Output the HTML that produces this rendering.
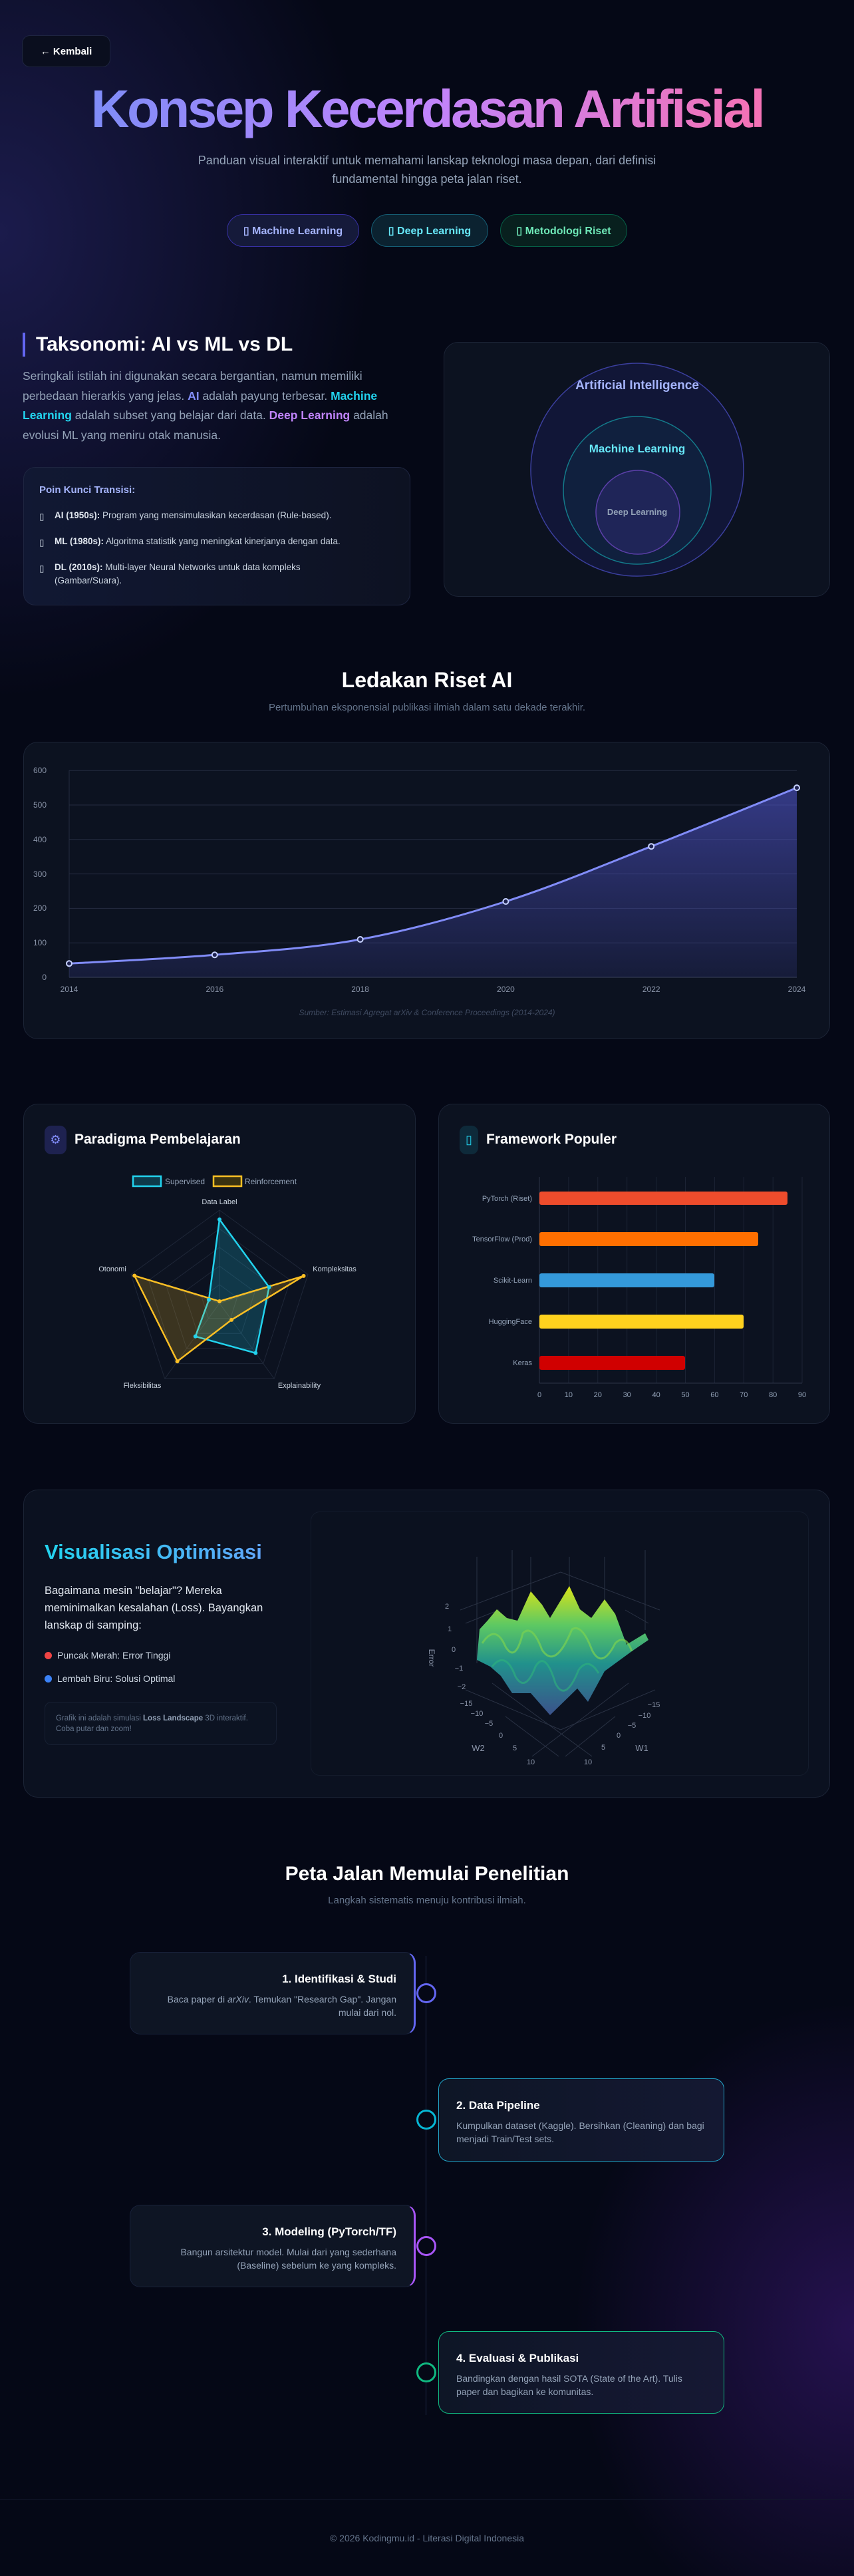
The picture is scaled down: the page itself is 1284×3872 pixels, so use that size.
<!DOCTYPE html>
<html><head><meta charset="utf-8"><style>
*{margin:0;padding:0;box-sizing:border-box}
body{width:1284px;height:3872px;overflow:hidden;position:relative;font-family:"Liberation Sans",sans-serif;color:#e2e8f0;
background:
radial-gradient(ellipse 800px 1000px at 0px 350px,rgba(49,46,129,.5),transparent 70%),
radial-gradient(ellipse 600px 700px at 1284px 3500px,rgba(76,29,149,.45),transparent 70%),
#050816;}
.a{position:absolute}
.card{position:absolute;background:#0c1220;border:1px solid #1c2436;border-radius:22px}
.pill{position:absolute;top:322px;height:49px;border-radius:25px;font-size:16px;font-weight:bold;display:flex;align-items:center;justify-content:center}
.tl{position:absolute;border-radius:16px;background:#0e1524;padding:30px 26px 0 26px}
.tl h4{font-size:17px;color:#fff;margin-bottom:10px}
.tl p{font-size:14px;line-height:20px;color:#94a3b8}
.dot{position:absolute;width:30px;height:30px;border-radius:50%;border:3px solid;background:#050816;left:626px}
</style></head><body>

<div class="a" style="left:33px;top:53px;width:133px;height:48px;border:1px solid #1e2540;border-radius:12px;background:#0a0e1e;color:#fff;font-size:15px;font-weight:bold;display:flex;align-items:center;justify-content:center">← Kembali</div>

<div class="a" style="left:0;top:118px;width:1284px;text-align:center;font-size:80px;font-weight:bold;letter-spacing:-3.5px;line-height:92px;background:linear-gradient(90deg,#818cf8 12%,#c084fc 50%,#f472b6 88%);-webkit-background-clip:text;background-clip:text;color:transparent">Konsep Kecerdasan Artifisial</div>
<div class="a" style="left:272px;top:227px;width:740px;text-align:center;font-size:18px;line-height:28px;color:#94a3b8">Panduan visual interaktif untuk memahami lanskap teknologi masa depan, dari definisi fundamental hingga peta jalan riset.</div>

<div class="pill" style="left:341px;width:199px;border:1px solid #3730a3;background:#151a3a;color:#a5b4fc">▯ Machine Learning</div>
<div class="pill" style="left:558px;width:176px;border:1px solid #155e75;background:#0b2230;color:#67e8f9">▯ Deep Learning</div>
<div class="pill" style="left:752px;width:191px;border:1px solid #065f46;background:#08201e;color:#6ee7b7">▯ Metodologi Riset</div>

<div class="a" style="left:34px;top:500px;width:4px;height:36px;background:#6366f1"></div>
<div class="a" style="left:54px;top:500px;font-size:30px;font-weight:bold;color:#fff;line-height:36px">Taksonomi: AI vs ML vs DL</div>
<div class="a" style="left:34px;top:551px;width:572px;font-size:17.5px;line-height:29.5px;color:#94a3b8">Seringkali istilah ini digunakan secara bergantian, namun memiliki perbedaan hierarkis yang jelas. <b style="color:#818cf8">AI</b> adalah payung terbesar. <b style="color:#22d3ee">Machine Learning</b> adalah subset yang belajar dari data. <b style="color:#c084fc">Deep Learning</b> adalah evolusi ML yang meniru otak manusia.</div>

<div class="a" style="left:35px;top:702px;width:582px;height:208px;border:1px solid #1e2540;border-radius:18px;background:linear-gradient(90deg,#111833,#0d1222)"></div>
<div class="a" style="left:59px;top:728px;font-size:15px;font-weight:bold;color:#a5b4fc">Poin Kunci Transisi:</div>
<div class="a" style="left:59px;top:765px;font-size:13.5px;line-height:20px;color:#cbd5e1;width:540px">
<div style="position:relative;padding-left:23px;margin-bottom:19px"><span style="position:absolute;left:0;top:2px">▯</span><b style="color:#e2e8f0">AI (1950s):</b> Program yang mensimulasikan kecerdasan (Rule-based).</div>
<div style="position:relative;padding-left:23px;margin-bottom:19px"><span style="position:absolute;left:0;top:2px">▯</span><b style="color:#e2e8f0">ML (1980s):</b> Algoritma statistik yang meningkat kinerjanya dengan data.</div>
<div style="position:relative;padding-left:23px;width:470px"><span style="position:absolute;left:0;top:2px">▯</span><b style="color:#e2e8f0">DL (2010s):</b> Multi-layer Neural Networks untuk data kompleks (Gambar/Suara).</div>
</div>

<div class="card" style="left:667px;top:514px;width:581px;height:383px"></div>

<div class="a" style="left:0;top:1004px;width:1284px;text-align:center;font-size:32px;font-weight:bold;color:#fff">Ledakan Riset AI</div>
<div class="a" style="left:0;top:1055px;width:1284px;text-align:center;font-size:15px;color:#64748b">Pertumbuhan eksponensial publikasi ilmiah dalam satu dekade terakhir.</div>
<div class="card" style="left:35px;top:1115px;width:1213px;height:447px"></div>

<div class="card" style="left:35px;top:1659px;width:590px;height:481px"></div>
<div class="card" style="left:659px;top:1659px;width:589px;height:481px"></div>
<div class="a" style="left:67px;top:1692px;width:33px;height:43px;border-radius:10px;background:#1e2250;color:#818cf8;font-size:18px;display:flex;align-items:center;justify-content:center">⚙</div>
<div class="a" style="left:112px;top:1701px;font-size:21px;font-weight:bold;color:#fff">Paradigma Pembelajaran</div>
<div class="a" style="left:691px;top:1692px;width:28px;height:43px;border-radius:10px;background:#0e2a3a;color:#22d3ee;font-size:18px;display:flex;align-items:center;justify-content:center">▯</div>
<div class="a" style="left:731px;top:1701px;font-size:21px;font-weight:bold;color:#fff">Framework Populer</div>

<div class="card" style="left:35px;top:2239px;width:1213px;height:463px;background:#0b1120"></div>
<div class="a" style="left:467px;top:2272px;width:749px;height:397px;border:1px solid #141c2c;border-radius:14px;background:#0b111f"></div>
<div class="a" style="left:67px;top:2315px;font-size:31px;font-weight:bold;background:linear-gradient(90deg,#22d3ee,#60a5fa);-webkit-background-clip:text;background-clip:text;color:transparent">Visualisasi Optimisasi</div>
<div class="a" style="left:67px;top:2378px;width:350px;font-size:16.5px;line-height:26px;color:#e2e8f0">Bagaimana mesin "belajar"? Mereka meminimalkan kesalahan (Loss). Bayangkan lanskap di samping:</div>
<div class="a" style="left:67px;top:2480px;font-size:14px;color:#cbd5e1"><span style="display:inline-block;width:11px;height:11px;border-radius:50%;background:#ef4444;margin-right:8px;vertical-align:-1px"></span>Puncak Merah: Error Tinggi</div>
<div class="a" style="left:67px;top:2515px;font-size:14px;color:#cbd5e1"><span style="display:inline-block;width:11px;height:11px;border-radius:50%;background:#3b82f6;margin-right:8px;vertical-align:-1px"></span>Lembah Biru: Solusi Optimal</div>
<div class="a" style="left:67px;top:2558px;width:349px;height:65px;border:1px solid #172033;border-radius:10px;background:#0c1322;padding:16px 16px;font-size:11.5px;line-height:16px;color:#64748b">Grafik ini adalah simulasi <b style="color:#94a3b8">Loss Landscape</b> 3D interaktif. Coba putar dan zoom!</div>

<div class="a" style="left:0;top:2800px;width:1284px;text-align:center;font-size:30px;font-weight:bold;color:#fff">Peta Jalan Memulai Penelitian</div>
<div class="a" style="left:0;top:2848px;width:1284px;text-align:center;font-size:15px;color:#64748b">Langkah sistematis menuju kontribusi ilmiah.</div>
<div class="a" style="left:640px;top:2940px;width:1px;height:690px;background:#1e2a4a"></div>

<div class="tl" style="left:195px;top:2934px;width:430px;height:124px;border:1px solid #18213a;border-right:3px solid #6366f1;text-align:right"><h4>1. Identifikasi &amp; Studi</h4><p>Baca paper di <i>arXiv</i>. Temukan "Research Gap". Jangan mulai dari nol.</p></div>
<div class="dot" style="top:2981px;border-color:#6366f1"></div>
<div class="tl" style="left:659px;top:3124px;width:430px;height:125px;border:1.5px solid #22a5c9;background:linear-gradient(90deg,#0e1626,#141832)"><h4>2. Data Pipeline</h4><p>Kumpulkan dataset (Kaggle). Bersihkan (Cleaning) dan bagi menjadi Train/Test sets.</p></div>
<div class="dot" style="top:3171px;border-color:#06b6d4"></div>
<div class="tl" style="left:195px;top:3314px;width:430px;height:124px;border:1px solid #18213a;border-right:3px solid #a855f7;text-align:right"><h4>3. Modeling (PyTorch/TF)</h4><p>Bangun arsitektur model. Mulai dari yang sederhana (Baseline) sebelum ke yang kompleks.</p></div>
<div class="dot" style="top:3361px;border-color:#a855f7"></div>
<div class="tl" style="left:659px;top:3504px;width:430px;height:124px;border:1.5px solid #10b981;background:linear-gradient(90deg,#0e1626,#161834)"><h4>4. Evaluasi &amp; Publikasi</h4><p>Bandingkan dengan hasil SOTA (State of the Art). Tulis paper dan bagikan ke komunitas.</p></div>
<div class="dot" style="top:3551px;border-color:#10b981"></div>

<div class="a" style="left:0;top:3757px;width:1284px;height:1px;background:#121a2c"></div>
<div class="a" style="left:0;top:3807px;width:1284px;text-align:center;font-size:14px;color:#64748b">© 2026 Kodingmu.id - Literasi Digital Indonesia</div>

<svg class="a" style="left:0;top:0" width="1284" height="3872" font-family="Liberation Sans, sans-serif">
<defs>
<linearGradient id="area" x1="0" y1="0" x2="0" y2="1"><stop offset="0" stop-color="#4f54c8" stop-opacity=".6"/><stop offset="1" stop-color="#4f54c8" stop-opacity=".15"/></linearGradient>
<linearGradient id="vir" x1="0" y1="0" x2="0" y2="1"><stop offset="0" stop-color="#d8e219"/><stop offset=".3" stop-color="#5ec962"/><stop offset=".6" stop-color="#21918c"/><stop offset="1" stop-color="#3b528b"/></linearGradient>
</defs>
<circle cx="958" cy="706" r="160" fill="#16194a" fill-opacity=".55" stroke="#3b3f9e" stroke-width="1.5"/>
<circle cx="958" cy="737" r="111" fill="#102a45" fill-opacity=".5" stroke="#137a8a" stroke-width="1.5"/>
<circle cx="959" cy="770" r="63" fill="#2a2a6a" fill-opacity=".6" stroke="#5b3fa8" stroke-width="1.5"/>
<text x="958" y="585" text-anchor="middle" font-size="19" font-weight="bold" fill="#a5b4fc">Artificial Intelligence</text>
<text x="958" y="680" text-anchor="middle" font-size="17" font-weight="bold" fill="#67e8f9">Machine Learning</text>
<text x="958" y="774" text-anchor="middle" font-size="13" font-weight="bold" fill="#94a3b8">Deep Learning</text>

<g stroke="#252c40" stroke-width="1">
<line x1="104" y1="1158.2" x2="1198" y2="1158.2"/><line x1="104" y1="1210" x2="1198" y2="1210"/><line x1="104" y1="1261.8" x2="1198" y2="1261.8"/><line x1="104" y1="1313.6" x2="1198" y2="1313.6"/><line x1="104" y1="1365.4" x2="1198" y2="1365.4"/><line x1="104" y1="1417.2" x2="1198" y2="1417.2"/><line x1="104" y1="1469" x2="1198" y2="1469" stroke="#3a4258"/><line x1="104" y1="1158" x2="104" y2="1469"/>
</g>
<g font-size="12" fill="#8a94a8" text-anchor="end">
<text x="70" y="1162">600</text><text x="70" y="1214">500</text><text x="70" y="1266">400</text><text x="70" y="1318">300</text><text x="70" y="1369">200</text><text x="70" y="1421">100</text><text x="70" y="1473">0</text>
</g>
<g font-size="12" fill="#8a94a8" text-anchor="middle">
<text x="104" y="1491">2014</text><text x="322.8" y="1491">2016</text><text x="541.6" y="1491">2018</text><text x="760.4" y="1491">2020</text><text x="979.2" y="1491">2022</text><text x="1198" y="1491">2024</text>
</g>
<path d="M104,1448.3 C140.5,1446.1 249.9,1441.4 322.8,1435.3 C395.7,1429.3 468.7,1425.4 541.6,1412 C614.5,1398.6 687.5,1378.3 760.4,1355 C833.3,1331.7 906.3,1300.7 979.2,1272.2 C1052.1,1243.7 1161.5,1198.8 1198,1184.1 L1198,1469 L104,1469 Z" fill="url(#area)"/>
<path d="M104,1448.3 C140.5,1446.1 249.9,1441.4 322.8,1435.3 C395.7,1429.3 468.7,1425.4 541.6,1412 C614.5,1398.6 687.5,1378.3 760.4,1355 C833.3,1331.7 906.3,1300.7 979.2,1272.2 C1052.1,1243.7 1161.5,1198.8 1198,1184.1" fill="none" stroke="#818cf8" stroke-width="3"/>
<g fill="#1e2250" stroke="#c7d2fe" stroke-width="2"><circle cx="104" cy="1448.3" r="4"/><circle cx="322.8" cy="1435.3" r="4"/><circle cx="541.6" cy="1412" r="4"/><circle cx="760.4" cy="1355" r="4"/><circle cx="979.2" cy="1272.2" r="4"/><circle cx="1198" cy="1184.1" r="4"/></g>
<text x="642" y="1526" text-anchor="middle" font-size="12" font-style="italic" fill="#3f4a60">Sumber: Estimasi Agregat arXiv &amp; Conference Proceedings (2014-2024)</text>

<rect x="200" y="1768" width="42" height="15" fill="#0e3a4a" stroke="#22d3ee" stroke-width="2.5"/>
<text x="248" y="1780" font-size="12" fill="#94a3b8">Supervised</text>
<rect x="321" y="1768" width="42" height="15" fill="#3a3210" stroke="#fbbf24" stroke-width="2.5"/>
<text x="368" y="1780" font-size="12" fill="#94a3b8">Reinforcement</text>
<g fill="none" stroke="#1f2738" stroke-width="1">
<polygon points="330,1819 463.1,1915.7 412.3,2072.3 247.7,2072.3 196.9,1915.7"/>
<polygon points="330,1847 436.5,1924.4 395.8,2049.6 264.2,2049.6 223.5,1924.4"/>
<polygon points="330,1875 409.9,1933 379.4,2027 280.6,2027 250.1,1933"/>
<polygon points="330,1903 383.2,1941.7 362.9,2004.3 297.1,2004.3 276.8,1941.7"/>
<polygon points="330,1931 356.6,1950.3 346.5,1981.7 313.5,1981.7 303.4,1950.3"/>
<line x1="330" y1="1959" x2="330" y2="1819"/><line x1="330" y1="1959" x2="463.1" y2="1915.7"/><line x1="330" y1="1959" x2="412.3" y2="2072.3"/><line x1="330" y1="1959" x2="247.7" y2="2072.3"/><line x1="330" y1="1959" x2="196.9" y2="1915.7"/>
</g>
<polygon points="330,1833 404.6,1934.8 384.3,2033.8 293.8,2008.8 314,1953.8" fill="#22d3ee" fill-opacity=".2" stroke="#22d3ee" stroke-width="2.5"/>
<polygon points="330,1956 456.5,1917.9 348.1,1983.9 266.6,2046.2 202.2,1917.5" fill="#fbbf24" fill-opacity=".2" stroke="#fbbf24" stroke-width="2.5"/>
<g fill="#22d3ee"><circle cx="330" cy="1833" r="3"/><circle cx="404.6" cy="1934.8" r="3"/><circle cx="384.3" cy="2033.8" r="3"/><circle cx="293.8" cy="2008.8" r="3"/><circle cx="314" cy="1953.8" r="3"/></g>
<g fill="#fbbf24"><circle cx="330" cy="1956" r="3"/><circle cx="456.5" cy="1917.9" r="3"/><circle cx="348.1" cy="1983.9" r="3"/><circle cx="266.6" cy="2046.2" r="3"/><circle cx="202.2" cy="1917.5" r="3"/></g>
<g font-size="11" fill="#cbd5e1" text-anchor="middle">
<text x="330" y="1810">Data Label</text><text x="503" y="1911">Kompleksitas</text><text x="450" y="2086">Explainability</text><text x="214" y="2086">Fleksibilitas</text><text x="169" y="1911">Otonomi</text>
</g>

<g stroke="#1c2334" stroke-width="1">
<line x1="854.9" y1="1769" x2="854.9" y2="2079"/><line x1="898.8" y1="1769" x2="898.8" y2="2079"/><line x1="942.7" y1="1769" x2="942.7" y2="2079"/><line x1="986.6" y1="1769" x2="986.6" y2="2079"/><line x1="1030.5" y1="1769" x2="1030.5" y2="2079"/><line x1="1074.4" y1="1769" x2="1074.4" y2="2079"/><line x1="1118.3" y1="1769" x2="1118.3" y2="2079"/><line x1="1162.2" y1="1769" x2="1162.2" y2="2079"/><line x1="1206" y1="1769" x2="1206" y2="2079"/>
<line x1="811" y1="1769" x2="811" y2="2079" stroke="#2c3448"/><line x1="811" y1="2079" x2="1206" y2="2079" stroke="#2c3448"/>
</g>
<rect x="811" y="1791" width="373" height="20" rx="3" fill="#ee4c2c"/>
<rect x="811" y="1852" width="329" height="21" rx="3" fill="#ff6f00"/>
<rect x="811" y="1914" width="263" height="21" rx="3" fill="#3499da"/>
<rect x="811" y="1976" width="307" height="21" rx="3" fill="#ffd21e"/>
<rect x="811" y="2038" width="219" height="21" rx="3" fill="#d00000"/>
<g font-size="11" fill="#94a3b8" text-anchor="end">
<text x="800" y="1805">PyTorch (Riset)</text><text x="800" y="1866">TensorFlow (Prod)</text><text x="800" y="1928">Scikit-Learn</text><text x="800" y="1990">HuggingFace</text><text x="800" y="2052">Keras</text>
</g>
<g font-size="11" fill="#94a3b8" text-anchor="middle">
<text x="811" y="2100">0</text><text x="854.9" y="2100">10</text><text x="898.8" y="2100">20</text><text x="942.7" y="2100">30</text><text x="986.6" y="2100">40</text><text x="1030.5" y="2100">50</text><text x="1074.4" y="2100">60</text><text x="1118.3" y="2100">70</text><text x="1162.2" y="2100">80</text><text x="1206" y="2100">90</text>
</g>

<g stroke="#2a3244" stroke-width="1" fill="none">
<line x1="843" y1="2363" x2="692" y2="2420"/><line x1="843" y1="2363" x2="992" y2="2420"/>
<line x1="717" y1="2340" x2="717" y2="2500"/><line x1="770" y1="2330" x2="770" y2="2480"/><line x1="798" y1="2340" x2="798" y2="2400"/><line x1="856" y1="2340" x2="856" y2="2390"/><line x1="909" y1="2340" x2="909" y2="2410"/><line x1="970" y1="2330" x2="970" y2="2450"/>
<line x1="700" y1="2440" x2="750" y2="2420"/><line x1="940" y1="2420" x2="975" y2="2440"/>
<line x1="740" y1="2530" x2="890" y2="2640"/><line x1="760" y1="2580" x2="840" y2="2640"/><line x1="945" y1="2530" x2="800" y2="2640"/><line x1="925" y1="2580" x2="850" y2="2640"/>
<line x1="700" y1="2540" x2="843" y2="2600"/><line x1="985" y1="2540" x2="843" y2="2600"/>
</g>
<path d="M717,2495 L721,2449 L733,2436 L747,2419 L762,2432 L778,2436 L798,2392 L815,2412 L827,2432 L856,2384 L872,2419 L889,2432 L909,2404 L925,2426 L942,2472 L970,2455 L975,2465 L950,2482 L909,2512 L884,2558 L868,2538 L827,2578 L798,2545 L770,2545 L753,2519 L737,2505 Z" fill="url(#vir)"/>
<path d="M725,2470 Q745,2440 760,2475 Q775,2500 786,2455 Q800,2440 815,2480 Q835,2510 860,2449 Q875,2440 890,2480 Q905,2510 925,2470 Q940,2455 950,2482" fill="none" stroke="#7ad151" stroke-width="3" stroke-opacity=".7"/>
<path d="M740,2505 Q760,2480 775,2520 Q790,2545 805,2505 Q820,2480 835,2530 Q850,2560 870,2510 Q885,2490 900,2515" fill="none" stroke="#2fb47c" stroke-width="3" stroke-opacity=".6"/>
<g font-size="11" fill="#8a94a8" text-anchor="middle">
<text x="672" y="2418">2</text><text x="676" y="2452">1</text><text x="682" y="2483">0</text><text x="690" y="2511">−1</text><text x="694" y="2539">−2</text>
<text x="645" y="2492" transform="rotate(90 645 2492)" font-size="12">Error</text>
<text x="701" y="2564">−15</text><text x="717" y="2579">−10</text><text x="735" y="2594">−5</text><text x="753" y="2612">0</text><text x="774" y="2631">5</text><text x="798" y="2652">10</text>
<text x="983" y="2566">−15</text><text x="969" y="2582">−10</text><text x="950" y="2597">−5</text><text x="930" y="2612">0</text><text x="907" y="2630">5</text><text x="884" y="2652">10</text>
<text x="719" y="2632" font-size="13">W2</text><text x="965" y="2632" font-size="13">W1</text>
</g>
</svg>
</body></html>
